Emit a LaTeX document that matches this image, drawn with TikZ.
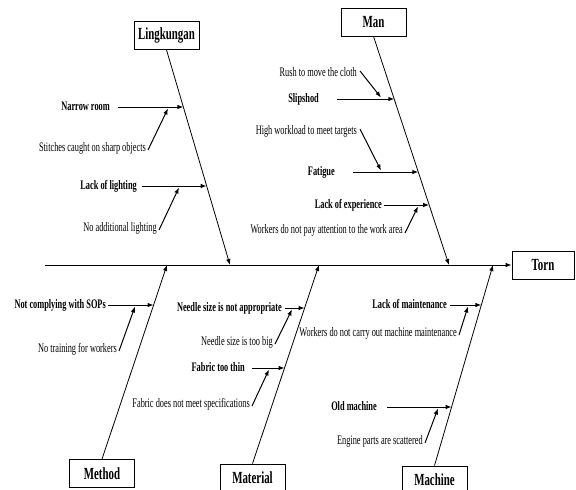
\documentclass[tikz,border=0pt]{standalone}
\usepackage{fontspec}
\setmainfont{Liberation Serif}[FakeStretch=0.64]
\usetikzlibrary{arrows.meta}
\tikzset{
  catbox/.style={draw, line width=0.8pt, minimum width=65pt, minimum height=28pt,
    inner sep=0pt, font=\fontsize{17}{19}\selectfont\bfseries},
  cause/.style={anchor=east, inner sep=0pt, text height=9pt, text depth=2.5pt,
    font=\fontsize{13}{15}\selectfont\bfseries},
  subcause/.style={anchor=east, inner sep=0pt, text height=9pt, text depth=2.5pt,
    font=\fontsize{13}{15}\selectfont},
  bone/.style={line width=0.8pt},
  arr/.style={line width=1pt, -{Latex[length=6pt,width=4.5pt]}},
  bonearr/.style={line width=0.8pt, -{Latex[length=6pt,width=4.5pt]}},
}
\begin{document}
\begin{tikzpicture}[x=1pt,y=-1pt]
\useasboundingbox (0,0) rectangle (576,490);

% head and category boxes
\node[catbox, minimum width=62pt] (torn) at (543,265) {Torn};
\node[catbox] (env) at (166.5,35.5) {Lingkungan};
\node[catbox] (man) at (373.5,22) {Man};
\node[catbox] (method) at (102,473.5) {Method};
\node[catbox] (material) at (252.5,478) {Material};
\node[catbox] (machine) at (434.5,480) {Machine};

% spine
\coordinate (tail) at (45,265);
\draw[bonearr] (tail) -- (torn.west);

% where the bones meet the spine
\coordinate (envS) at (230,265);
\coordinate (manS) at (449,265);
\coordinate (metS) at (167,265);
\coordinate (matS) at (319,265);
\coordinate (macS) at (493,265);
\draw[bonearr] (env.south) -- (envS);
\draw[bonearr] (man.south) -- (manS);
\draw[bonearr] (method.north) -- (metS);
\draw[bonearr] (material.north) -- (matS);
\draw[bonearr] (machine.north) -- (macS);

% ---- Lingkungan
\node[cause] (nr) at (110,107) {Narrow room};
\coordinate (nrT) at (183.4,107);
\draw[arr] ([xshift=8pt]nr.east) -- (nrT);
\node[subcause] (sc) at (146,148) {Stitches caught on sharp objects};
\coordinate (scT) at (168,108.5);
\draw[arr] ([xshift=2pt,yshift=-2pt]sc.east) -- (scT);
\node[cause] (ll) at (137,186) {Lack of lighting};
\coordinate (llT) at (206.7,186);
\draw[arr] ([xshift=5pt]ll.east) -- (llT);
\node[subcause] (na) at (157,228) {No additional lighting};
\coordinate (naT) at (179,187.5);
\draw[arr] ([xshift=2pt,yshift=-2pt]na.east) -- (naT);

% ---- Man
\node[subcause] (rm) at (357,73) {Rush to move the cloth};
\coordinate (rmT) at (381,97.5);
\draw[arr] ([xshift=3pt,yshift=2pt]rm.east) -- (rmT);
\node[cause] (sl) at (319,99) {Slipshod};
\coordinate (slT) at (394.3,99);
\draw[arr] ([xshift=18pt]sl.east) -- (slT);
\node[subcause] (hw) at (357,131) {High workload to meet targets};
\coordinate (hwT) at (381,170.5);
\draw[arr] ([xshift=3pt,yshift=2pt]hw.east) -- (hwT);
\node[cause] (fa) at (335,172) {Fatigue};
\coordinate (faT) at (418.3,172);
\draw[arr] ([xshift=18pt]fa.east) -- (faT);
\node[cause] (le) at (382,205) {Lack of experience};
\coordinate (leT) at (429.2,205);
\draw[arr] ([xshift=2pt]le.east) -- (leT);
\node[subcause] (wp) at (403,230) {Workers do not pay attention to the work area};
\coordinate (wpT) at (418,206.5);
\draw[arr] ([xshift=2pt,yshift=-3pt]wp.east) -- (wpT);

% ---- Method
\node[cause] (nc) at (106,305) {Not complying with SOPs};
\coordinate (ncT) at (153.6,305);
\draw[arr] ([xshift=2pt]nc.east) -- (ncT);
\node[subcause] (nt) at (117,349) {No training for workers};
\coordinate (ntT) at (135,306.5);
\draw[arr] ([xshift=2pt,yshift=-2pt]nt.east) -- (ntT);

% ---- Material
\node[cause] (ns) at (282,308) {Needle size is not appropriate};
\coordinate (nsT) at (304.6,308);
\draw[arr] ([xshift=3pt]ns.east) -- (nsT);
\node[subcause] (nb) at (273,342) {Needle size is too big};
\coordinate (nbT) at (292,309.5);
\draw[arr] ([xshift=2pt,yshift=-2pt]nb.east) -- (nbT);
\node[cause] (ft) at (245,368) {Fabric too thin};
\coordinate (ftT) at (284.6,368);
\draw[arr] ([xshift=7pt]ft.east) -- (ftT);
\node[subcause] (fd) at (250,404) {Fabric does not meet specifications};
\coordinate (fdT) at (269,369.5);
\draw[arr] ([xshift=2pt,yshift=-2pt]fd.east) -- (fdT);

% ---- Machine
\node[cause] (lm) at (447,305) {Lack of maintenance};
\coordinate (lmT) at (481.4,305);
\draw[arr] ([xshift=3pt]lm.east) -- (lmT);
\node[subcause] (wc) at (457,333) {Workers do not carry out machine maintenance};
\coordinate (wcT) at (468,306.5);
\draw[arr] ([xshift=2pt,yshift=-2pt]wc.east) -- (wcT);
\node[cause] (om) at (377,407) {Old machine};
\coordinate (omT) at (451.7,407);
\draw[arr] ([xshift=10pt]om.east) -- (omT);
\node[subcause] (ep) at (423,441) {Engine parts are scattered};
\coordinate (epT) at (438,408.5);
\draw[arr] ([xshift=2pt,yshift=-2pt]ep.east) -- (epT);
\end{tikzpicture}
\end{document}
